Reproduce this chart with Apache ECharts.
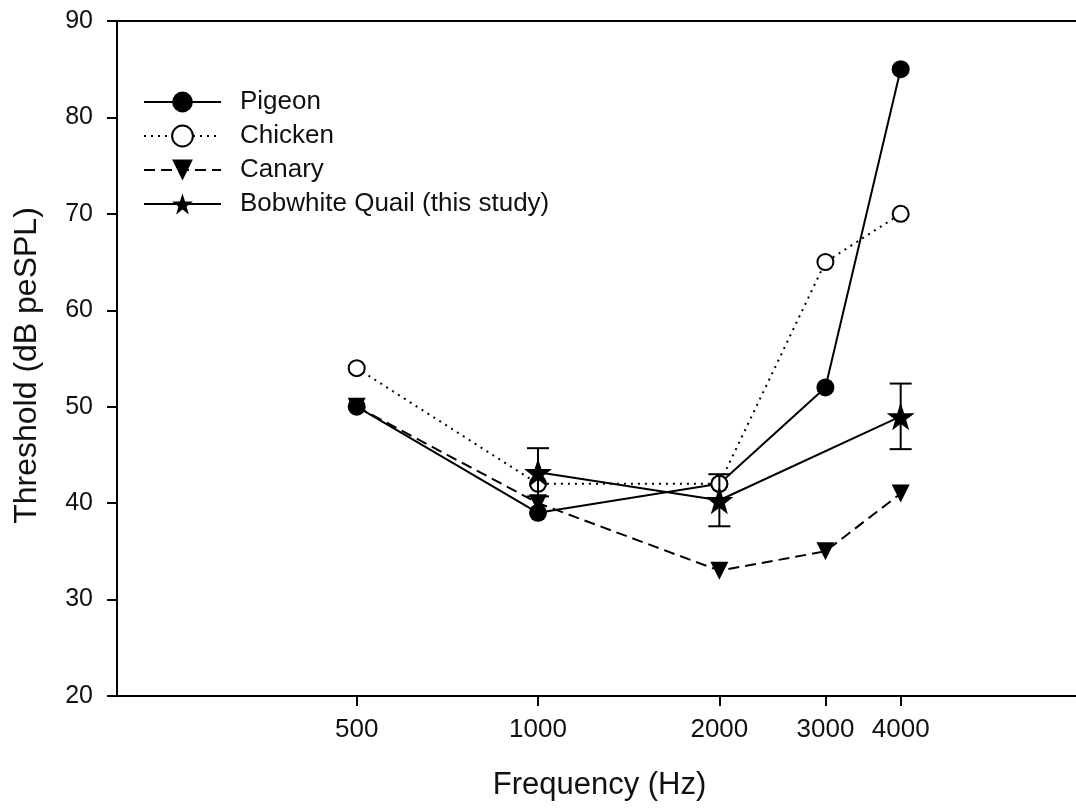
<!DOCTYPE html>
<html><head><meta charset="utf-8">
<script src="https://cdn.jsdelivr.net/npm/echarts@6/dist/echarts.min.js"></script>
<style>html,body{margin:0;padding:0;background:#fff;overflow:hidden}#c{width:1082px;height:808px}</style>
</head><body><div id="c"></div>
<script>
// ---- data ----
const seriesNames = ['Pigeon', 'Chicken', 'Canary', 'Bobwhite Quail (this study)'];
const frequencies = [500, 1000, 2000, 3000, 4000];
const pigeon  = [50, 39, 42, 52, 85];
const chicken = [54, 42, 42, 65, 70];
const canary  = [50, 40, 33, 35, 41];
const quailFreq = [1000, 2000, 4000];
const quail     = [43.2, 40.3, 49.0];
const quailErr  = [2.5, 2.7, 3.4];
const xTickValues = [500, 1000, 2000, 3000, 4000];
const xTitle = 'Frequency (Hz)';
const yTitle = 'Threshold (dB peSPL)';

// ---- chart ----
const FONT = "'Liberation Sans', Arial, sans-serif";
const STAR = 'path://M50,0 L61.8,35.1 L98.1,35.1 L68.8,56.7 L79.4,91 L50,70 L20.6,91 L31.2,56.7 L1.9,35.1 L38.2,35.1 Z';
const pairs = (xs, ys) => xs.map((x, i) => [x, ys[i]]);

const chart = echarts.init(document.getElementById('c'), null, {renderer: 'canvas'});
chart.setOption({
  animation: false,
  backgroundColor: '#fff',
  grid: {left: 117, top: 21, right: 0, bottom: 112, show: true, borderColor: '#000', borderWidth: 2},
  legend: {
    orient: 'vertical', left: 143, top: 89, padding: 0,
    itemWidth: 77, itemHeight: 26, itemGap: 8,
    data: seriesNames,
    textStyle: {fontFamily: FONT, fontSize: 26, color: '#111', padding: [0, 0, 0, 14]}
  },
  xAxis: {
    type: 'log', min: 200, max: 8000,
    name: xTitle, nameLocation: 'middle', nameGap: 74,
    nameTextStyle: {fontFamily: FONT, fontSize: 31, color: '#111'},
    axisLine: {show: true, lineStyle: {color: '#000', width: 2}},
    axisTick: {show: true, length: 10, lineStyle: {color: '#000', width: 2}, customValues: xTickValues},
    axisLabel: {margin: 21, fontFamily: FONT, fontSize: 26, color: '#111', customValues: xTickValues,
                formatter: v => String(Math.round(v))},
    splitLine: {show: false}, minorTick: {show: false}
  },
  yAxis: {
    type: 'value', min: 20, max: 90, interval: 10,
    name: yTitle, nameLocation: 'middle', nameGap: 74,
    nameTextStyle: {fontFamily: FONT, fontSize: 32, color: '#111', padding: [0, 14, 0, 0]},
    axisLine: {show: true, lineStyle: {color: '#000', width: 2}},
    axisTick: {show: true, length: 10, lineStyle: {color: '#000', width: 2}},
    axisLabel: {margin: 24, fontFamily: FONT, fontSize: 25, color: '#111'},
    splitLine: {show: false}
  },
  series: [
    {
      name: 'Pigeon', type: 'line', data: pairs(frequencies, pigeon),
      symbol: 'circle', symbolSize: 18,
      itemStyle: {color: '#000'}, lineStyle: {color: '#000', width: 2}, z: 3
    },
    {
      name: 'Chicken', type: 'line', data: pairs(frequencies, chicken),
      symbol: 'circle', symbolSize: 16,
      itemStyle: {color: '#fff', borderColor: '#000', borderWidth: 2},
      lineStyle: {color: '#000', width: 2, type: [2, 5]}, z: 4
    },
    {
      name: 'Canary', type: 'line', data: pairs(frequencies, canary),
      symbol: 'triangle', symbolRotate: 180, symbolSize: 18,
      itemStyle: {color: '#000'}, lineStyle: {color: '#000', width: 2, type: [11, 6]}, z: 3
    },
    {
      name: 'quailErr', type: 'custom', z: 5,
      data: quailFreq.map((f, i) => [f, quail[i] - quailErr[i], quail[i] + quailErr[i]]),
      renderItem: (params, api) => {
        const lo = api.coord([api.value(0), api.value(1)]);
        const hi = api.coord([api.value(0), api.value(2)]);
        const w = 11;
        const st = {stroke: '#000', lineWidth: 2};
        return {type: 'group', children: [
          {type: 'line', shape: {x1: lo[0], y1: lo[1], x2: hi[0], y2: hi[1]}, style: st},
          {type: 'line', shape: {x1: lo[0] - w, y1: lo[1], x2: lo[0] + w, y2: lo[1]}, style: st},
          {type: 'line', shape: {x1: hi[0] - w, y1: hi[1], x2: hi[0] + w, y2: hi[1]}, style: st}
        ]};
      }
    },
    {
      name: 'Bobwhite Quail (this study)', type: 'line', data: pairs(quailFreq, quail),
      symbol: STAR, symbolSize: 28,
      itemStyle: {color: '#000'}, lineStyle: {color: '#000', width: 2}, z: 6
    }
  ]
});
</script>
</body></html>
